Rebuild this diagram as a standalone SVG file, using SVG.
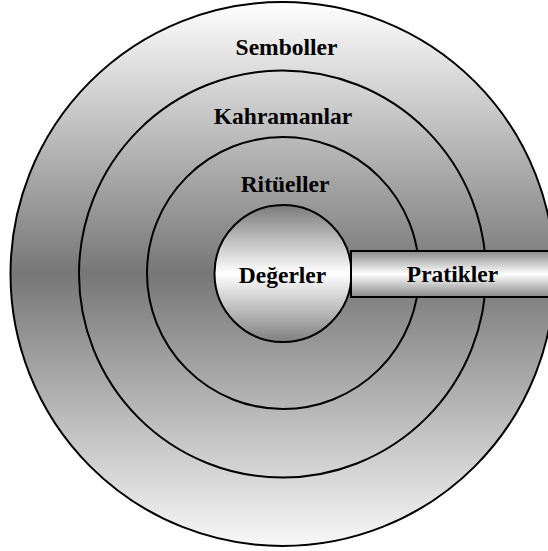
<svg xmlns="http://www.w3.org/2000/svg" width="548" height="551" viewBox="0 0 548 551">
<defs>
<linearGradient id="ring" gradientUnits="userSpaceOnUse" x1="0" y1="2" x2="0" y2="546">
<stop offset="0" stop-color="#ffffff"/>
<stop offset="0.5" stop-color="#777777"/>
<stop offset="1" stop-color="#f8f8f8"/>
</linearGradient>
<linearGradient id="core" x1="0" y1="0" x2="0" y2="1">
<stop offset="0" stop-color="#7a7a7a"/>
<stop offset="0.5" stop-color="#ffffff"/>
<stop offset="1" stop-color="#808080"/>
</linearGradient>
<linearGradient id="bar" x1="0" y1="0" x2="0" y2="1">
<stop offset="0" stop-color="#8a8a8a"/>
<stop offset="0.5" stop-color="#ffffff"/>
<stop offset="1" stop-color="#888888"/>
</linearGradient>
</defs>
<style>
.ring{fill:url(#ring);stroke:#000;stroke-width:2}
.core{fill:url(#core);stroke:#000;stroke-width:2}
.bar{fill:url(#bar);stroke:#000;stroke-width:2}
text{font-family:"Liberation Serif","Times New Roman",serif;font-weight:bold;font-size:23.5px;fill:#000;text-anchor:middle}
</style>
<g id="semboller">
<circle class="ring" cx="282.5" cy="274" r="272"/>
<text x="286.5" y="55">Semboller</text>
</g>
<g id="kahramanlar">
<circle class="ring" cx="282.5" cy="274" r="203.5"/>
<text x="283" y="124">Kahramanlar</text>
</g>
<g id="ritueller">
<circle class="ring" cx="283" cy="273" r="136"/>
<text x="285" y="192">Ritüeller</text>
</g>
<g id="degerler">
<circle class="core" cx="283" cy="273.5" r="68.5"/>
<text x="282.5" y="283">Değerler</text>
</g>
<g id="pratikler">
<rect class="bar" x="351" y="251" width="200" height="46"/>
<text x="452.5" y="282">Pratikler</text>
</g>
<g id="connectors"/>
</svg>
